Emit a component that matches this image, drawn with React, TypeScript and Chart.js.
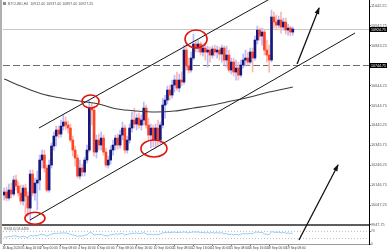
import React, { useEffect, useRef } from "react";
import { Chart, registerables } from "chart.js";

Chart.register(...registerables);

const HEADER = "BTCUSD,H4  10912.00 10937.00 10897.00 10927.25";
const RSI_LABEL = "RSI(14) 58.4490";

const X_LABELS = [
  "30 Aug 2020", "31 Aug 16:00", "2 Sep 00:00", "3 Sep 08:00", "4 Sep 16:00", "6 Sep 00:00",
  "7 Sep 08:00", "8 Sep 16:00", "10 Sep 00:00", "11 Sep 08:00", "12 Sep 16:00", "14 Sep 00:00",
  "15 Sep 08:00", "16 Sep 16:00", "18 Sep 00:00", "19 Sep 08:00",
];
const X_LABEL_BARS = [0, 8, 16, 24, 32, 40, 48, 56, 64, 72, 80, 88, 96, 104, 112, 120];

const OPEN = [
  10097, 10112, 10082, 10122, 10102, 10172, 10142, 10107, 10067, 10132,
  10092, 10032, 10202, 10107, 10157, 10172, 10272, 10297, 10232, 10122,
  10247, 10342, 10392, 10422, 10402, 10442, 10462, 10447, 10432, 10372,
  10322, 10282, 10192, 10232, 10212, 10272, 10322, 10532, 10522, 10312,
  10372, 10347, 10382, 10312, 10247, 10272, 10322, 10347, 10382, 10347,
  10397, 10432, 10322, 10372, 10432, 10472, 10452, 10482, 10447, 10472,
  10532, 10447, 10397, 10432, 10372, 10432, 10372, 10447, 10547, 10572,
  10622, 10597, 10647, 10672, 10632, 10672, 10662, 10822, 10742, 10722,
  10782, 10852, 10832, 10852, 10812, 10832, 10812, 10822, 10797, 10827,
  10812, 10822, 10802, 10832, 10772, 10797, 10722, 10762, 10712, 10732,
  10697, 10747, 10772, 10782, 10762, 10812, 10782, 10872, 10922, 10892,
  10912, 10822, 10797, 10772, 10987, 10962, 10947, 10972, 10937, 10962,
  10922, 10932, 10912,
];
const HIGH = [
  10132, 10137, 10152, 10157, 10192, 10197, 10162, 10147, 10147, 10152,
  10112, 10222, 10222, 10182, 10217, 10297, 10322, 10322, 10247, 10272,
  10357, 10412, 10442, 10442, 10472, 10497, 10487, 10467, 10452, 10392,
  10342, 10297, 10272, 10252, 10287, 10347, 10567, 10557, 10542, 10397,
  10402, 10412, 10397, 10332, 10292, 10342, 10372, 10397, 10402, 10422,
  10462, 10447, 10392, 10452, 10512, 10532, 10502, 10507, 10497, 10562,
  10547, 10482, 10452, 10447, 10452, 10472, 10462, 10582, 10597, 10642,
  10647, 10672, 10697, 10712, 10702, 10712, 10847, 10852, 10782, 10812,
  10902, 10872, 10872, 10862, 10852, 10847, 10842, 10837, 10842, 10847,
  10842, 10837, 10847, 10842, 10842, 10822, 10782, 10782, 10772, 10762,
  10772, 10802, 10822, 10812, 10832, 10832, 10892, 10942, 10932, 10932,
  10922, 10872, 10847, 11022, 11012, 10997, 10992, 11012, 10982, 10982,
  10952, 10942, 10937,
];
const LOW = [
  10072, 10067, 10072, 10082, 10092, 10122, 10092, 10052, 10047, 10002,
  9992, 9967, 10092, 10072, 10022, 10122, 10232, 10212, 10112, 10112,
  10232, 10322, 10342, 10382, 10387, 10422, 10422, 10407, 10362, 10292,
  10242, 10182, 10177, 10192, 10192, 10257, 10312, 10447, 10292, 10282,
  10322, 10322, 10297, 10237, 10232, 10252, 10297, 10322, 10327, 10332,
  10372, 10307, 10307, 10357, 10412, 10432, 10422, 10432, 10422, 10447,
  10432, 10372, 10332, 10337, 10332, 10342, 10352, 10432, 10482, 10552,
  10572, 10582, 10612, 10622, 10612, 10642, 10652, 10722, 10707, 10712,
  10772, 10812, 10812, 10797, 10792, 10772, 10737, 10762, 10782, 10792,
  10782, 10772, 10762, 10747, 10737, 10712, 10702, 10692, 10672, 10672,
  10687, 10732, 10742, 10747, 10752, 10712, 10772, 10852, 10872, 10847,
  10797, 10762, 10712, 10762, 10932, 10922, 10932, 10907, 10922, 10902,
  10897, 10892, 10897,
];
const CLOSE = [
  10112, 10082, 10122, 10102, 10172, 10142, 10107, 10067, 10132, 10092,
  10032, 10202, 10107, 10157, 10172, 10272, 10297, 10232, 10122, 10247,
  10342, 10392, 10422, 10402, 10442, 10462, 10447, 10432, 10372, 10322,
  10282, 10192, 10232, 10212, 10272, 10322, 10532, 10522, 10312, 10372,
  10347, 10382, 10312, 10247, 10272, 10322, 10347, 10382, 10347, 10397,
  10432, 10322, 10372, 10432, 10472, 10452, 10482, 10447, 10472, 10532,
  10447, 10397, 10432, 10372, 10432, 10372, 10447, 10547, 10572, 10622,
  10597, 10647, 10672, 10632, 10672, 10662, 10822, 10742, 10722, 10782,
  10852, 10832, 10852, 10812, 10832, 10812, 10822, 10797, 10827, 10812,
  10822, 10802, 10832, 10772, 10797, 10722, 10762, 10712, 10732, 10697,
  10747, 10772, 10782, 10762, 10812, 10782, 10872, 10922, 10892, 10912,
  10822, 10797, 10772, 10987, 10962, 10947, 10972, 10937, 10962, 10922,
  10932, 10912, 10927,
];

const MA_BARS = [0, 8, 16, 24, 32, 40, 48, 56, 64, 72, 80, 88, 96, 104, 112, 122];
const MA_VALUES = [
  10677, 10637, 10602, 10582, 10567, 10552, 10527, 10517,
  10512, 10517, 10532, 10547, 10567, 10587, 10612, 10637,
];

const RSI_VALUES = [
  40, 38, 42, 41, 46, 44, 42, 38, 43, 40,
  35, 48, 44, 47, 46, 52, 54, 50, 44, 50,
  55, 58, 60, 59, 61, 62, 61, 59, 54, 50,
  48, 42, 45, 44, 48, 51, 63, 62, 50, 53,
  52, 54, 49, 45, 47, 51, 53, 56, 54, 57,
  59, 50, 53, 57, 60, 59, 61, 58, 60, 63,
  56, 52, 55, 51, 55, 51, 56, 62, 63, 65,
  63, 65, 66, 63, 65, 64, 68, 64, 62, 65,
  67, 66, 67, 63, 64, 62, 63, 61, 63, 62,
  63, 61, 63, 57, 58, 52, 55, 51, 53, 50,
  55, 57, 58, 56, 60, 57, 65, 67, 64, 65,
  56, 54, 52, 68, 66, 64, 66, 62, 64, 60,
  61, 59, 60,
];

const PRICE_TICKS = [
  11042.25, 10992.5, 10942.75, 10893.0, 10843.25, 10793.5, 10743.75, 10694.0,
  10644.25, 10594.5, 10544.75, 10495.0, 10445.25, 10395.5, 10345.75, 10296.0,
  10246.25, 10196.5, 10146.75, 10097.0, 10047.25, 9997.5, 9947.75,
];
const RSI_TICKS = [0, 30, 70, 100];
const RSI_LEVELS = [30, 70];

const PRICE_MIN = 9942.25;
const PRICE_MAX = 11072.25;
const BAR_MIN = -0.5;
const BAR_MAX = 154.2;

const CURRENT_PRICE = 10924.75;
const LEVEL_PRICE = 10744.75;

// trend objects: [bar, price]
const UPPER_CHANNEL = [[14.7, 10432.25], [114.5, 11092.25]];
const LOWER_CHANNEL = [[10.9, 9972.25], [148.3, 10907.25]];
const ARROW_1 = [[123.8, 10752.25], [133.1, 11032.25]];
const ARROW_2 = [[124.6, 9872.25], [141.1, 10247.25]];
const CIRCLE_CENTERS = [[13.0, 9980.75], [36.5, 10564.75], [63.3, 10329.75], [81.1, 10877.25]];
const CIRCLE_RADII = [[10, 6], [8.5, 6.5], [13, 8.5], [11, 9]];

const ARROW_DATASET_INDEXES = [7, 8];

const overlay = {
  id: "overlay",
  beforeDatasetsDraw(chart: any) {
    const { ctx, chartArea } = chart;
    const yb = chart.scales.y.bottom;
    ctx.save();
    ctx.fillStyle = "#5e5e5e";
    ctx.fillRect(0, Math.round(yb) - 2, chartArea.right, 2);
    ctx.restore();
  },
  afterDatasetsDraw(chart: any) {
    const { ctx } = chart;
    const xs = chart.scales.x;
    const ys = chart.scales.y;
    ctx.save();
    ctx.strokeStyle = "#e0140e";
    ctx.lineWidth = 1.6;
    CIRCLE_CENTERS.forEach(([b, p], k) => {
      ctx.beginPath();
      ctx.ellipse(xs.getPixelForValue(b), ys.getPixelForValue(p), CIRCLE_RADII[k][0], CIRCLE_RADII[k][1], 0, 0, Math.PI * 2);
      ctx.stroke();
    });
    ctx.fillStyle = "#111";
    ARROW_DATASET_INDEXES.forEach((di) => {
      const pts = chart.getDatasetMeta(di).data;
      const a = pts[0];
      const b = pts[1];
      const ang = Math.atan2(b.y - a.y, b.x - a.x);
      const len = 6;
      const hw = 2.4;
      ctx.beginPath();
      ctx.moveTo(b.x + Math.cos(ang) * 1, b.y + Math.sin(ang) * 1);
      ctx.lineTo(b.x - Math.cos(ang) * len + Math.sin(ang) * hw, b.y - Math.sin(ang) * len - Math.cos(ang) * hw);
      ctx.lineTo(b.x - Math.cos(ang) * len - Math.sin(ang) * hw, b.y - Math.sin(ang) * len + Math.cos(ang) * hw);
      ctx.closePath();
      ctx.fill();
    });
    ctx.restore();
  },
  afterDraw(chart: any) {
    const { ctx, chartArea } = chart;
    const ys = chart.scales.y;
    ctx.save();
    ctx.fillStyle = "#b0b0b0";
    ctx.fillRect(0, 0, 2, chartArea.bottom);
    ctx.textBaseline = "middle";
    ctx.textAlign = "left";
    ctx.fillStyle = "#8a8a8a";
    ctx.fillRect(3, 2, 3, 3);
    ctx.font = '3.6px "Liberation Sans"';
    ctx.fillStyle = "#555";
    ctx.fillText(HEADER, 8, 3.5);
    ctx.font = '3.4px "Liberation Sans"';
    ctx.fillText(RSI_LABEL, 4, chart.scales.yr.top + 3.5);
    [CURRENT_PRICE, LEVEL_PRICE].forEach((p) => {
      const py = ys.getPixelForValue(p);
      ctx.fillStyle = "#000";
      ctx.fillRect(chartArea.right + 1, py - 2.5, chart.width - chartArea.right - 1, 5);
      ctx.fillStyle = "#fff";
      ctx.font = '3.6px "Liberation Sans"';
      ctx.fillText(p.toFixed(2), chartArea.right + 2, py + 0.2);
    });
    ctx.restore();
  },
};

export default function App() {
  const canvasRef = useRef<HTMLCanvasElement | null>(null);

  useEffect(() => {
    document.body.style.margin = "0";
    const canvas = canvasRef.current;
    if (!canvas) return;
    const idx = OPEN.map((_, i) => i);
    const isBull = (i: number) => CLOSE[i] >= OPEN[i];
    const seg = (pts: number[][]) => pts.map(([b, p]) => ({ x: b, y: p }));
    const hline = (v: number) => [{ x: BAR_MIN, y: v }, { x: BAR_MAX, y: v }];
    const lineBase = { type: "line", pointRadius: 0, pointHoverRadius: 0, fill: false, tension: 0 };

    const datasets: any[] = [
      {
        type: "bar", label: "wick",
        data: idx.map((i) => ({ x: i, y: [LOW[i], HIGH[i]] })),
        backgroundColor: idx.map((i) => (isBull(i) ? "#b4bbff" : "#ffb6ae")),
        barThickness: 1, maxBarThickness: 1, grouped: false, borderWidth: 0, order: 7,
      },
      {
        type: "bar", label: "body",
        data: idx.map((i) => ({ x: i, y: [OPEN[i], CLOSE[i]] })),
        backgroundColor: idx.map((i) => (isBull(i) ? "#17177a" : "#ff4526")),
        barThickness: 2, maxBarThickness: 2, grouped: false, borderWidth: 0, minBarLength: 1, order: 6,
      },
      { ...lineBase, label: "bid", data: hline(CURRENT_PRICE), borderColor: "#c6c6c6", borderWidth: 1, order: 9 },
      { ...lineBase, label: "level", data: hline(LEVEL_PRICE), borderColor: "#6e6e6e", borderWidth: 1, borderDash: [7, 3], order: 9 },
      {
        ...lineBase, label: "ma", data: MA_BARS.map((b, k) => ({ x: b, y: MA_VALUES[k] })),
        borderColor: "#3c3c3c", borderWidth: 1.1, cubicInterpolationMode: "monotone", order: 3,
      },
      { ...lineBase, label: "upper", data: seg(UPPER_CHANNEL), borderColor: "#151515", borderWidth: 1, order: 1 },
      { ...lineBase, label: "lower", data: seg(LOWER_CHANNEL), borderColor: "#151515", borderWidth: 1, order: 1 },
      { ...lineBase, label: "arrow1", data: seg(ARROW_1), borderColor: "#111", borderWidth: 1.3, order: 0, clip: false },
      { ...lineBase, label: "arrow2", data: seg(ARROW_2), borderColor: "#111", borderWidth: 1.3, order: 0, clip: false },
      {
        ...lineBase, label: "rsi", yAxisID: "yr", data: idx.map((i) => ({ x: i, y: RSI_VALUES[i] })),
        borderColor: "#95cbf5", borderWidth: 1, order: 2,
      },
      ...RSI_LEVELS.map((v) => ({
        ...lineBase, label: "rsi" + v, yAxisID: "yr", data: hline(v),
        borderColor: "#a8a8a8", borderWidth: 0.8, borderDash: [1, 2], order: 8,
      })),
    ];

    const font = (size: number) => ({ family: "Liberation Sans", size });

    const chart = new Chart(canvas, {
      type: "bar",
      data: { datasets },
      options: {
        responsive: false,
        animation: false,
        devicePixelRatio: 1,
        events: [],
        layout: { padding: { left: 3, right: 0, top: 0, bottom: 0 } },
        plugins: { legend: { display: false }, tooltip: { enabled: false }, title: { display: false } },
        scales: {
          x: {
            type: "linear", position: "bottom", min: BAR_MIN, max: BAR_MAX, offset: false,
            grid: { display: true, drawOnChartArea: false, offset: false, tickLength: 2, color: "#777" },
            border: { color: "#9a9a9a" },
            ticks: {
              autoSkip: false, maxRotation: 0, minRotation: 0, align: "start", padding: 0,
              labelOffset: -2, font: font(3.3), color: "#444",
              callback: (_v: any, i: number) => X_LABELS[i] ?? "",
            },
            afterBuildTicks: (s: any) => { s.ticks = X_LABEL_BARS.map((v) => ({ value: v })); },
            afterFit: (s: any) => { s.height = 6; s.paddingLeft = 0; s.paddingRight = 0; },
          },
          y: {
            type: "linear", position: "right", stack: "v", stackWeight: 226, min: PRICE_MIN, max: PRICE_MAX,
            grid: { drawOnChartArea: false, tickLength: 1.5, color: "#000" },
            border: { color: "#000" },
            ticks: { padding: 0.5, font: font(3.8), color: "#555", callback: (v: any) => Number(v).toFixed(2) },
            afterBuildTicks: (s: any) => { s.ticks = PRICE_TICKS.map((v) => ({ value: v })); },
            afterFit: (s: any) => { s.width = 18; s.paddingTop = 0; s.paddingBottom = 0; },
          },
          yr: {
            type: "linear", position: "right", stack: "v", stackWeight: 18, min: 0, max: 100,
            grid: { drawOnChartArea: false, tickLength: 1.5, color: "#000" },
            border: { color: "#000" },
            ticks: { padding: 0.5, font: font(3.3), color: "#555", callback: (v: any) => String(v) },
            afterBuildTicks: (s: any) => { s.ticks = RSI_TICKS.map((v) => ({ value: v })); },
            afterFit: (s: any) => { s.width = 18; s.paddingTop = 0; s.paddingBottom = 0; },
          },
        },
      } as any,
      plugins: [overlay],
    } as any);

    return () => chart.destroy();
  }, []);

  return (
    <div style={{ position: "absolute", left: 0, top: 0, width: 387, height: 250, background: "#fff" }}>
      <canvas ref={canvasRef} width={387} height={250} style={{ display: "block" }} />
    </div>
  );
}
